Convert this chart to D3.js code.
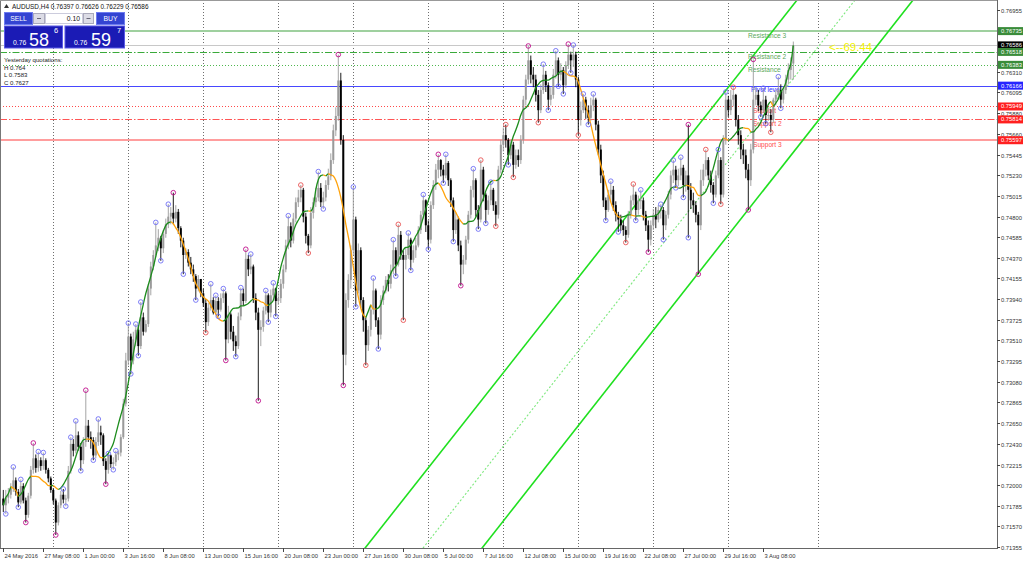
<!DOCTYPE html>
<html><head><meta charset="utf-8">
<script src="https://cdn.jsdelivr.net/npm/d3@7"></script>
<style>
body{margin:0;background:#fff;}
svg{display:block;font-family:"Liberation Sans",Arial,sans-serif;}
</style></head>
<body><svg id="chart" width="1024" height="562"></svg>
<script>
// ---------------- DATA ----------------
const symbol = "AUDUSD,H4";
const headerQuote = ["0.76397", "0.76626", "0.76229", "0.76586"];
const firstOpen = 7186; // pips (x10000)
const closes = [
7179,7187,7190,7197,7205,7193,7182,7199,7184,7169,
7189,7216,7228,7218,7226,7220,7226,7216,7207,7195,
7184,7161,7179,7190,7185,7186,7215,7243,7236,7252,
7240,7226,7245,7262,7250,7247,7231,7245,7255,7252,
7225,7216,7231,7222,7224,7232,7234,7250,7285,7330,
7355,7330,7352,7362,7345,7375,7360,7368,7405,7428,
7440,7450,7458,7447,7462,7472,7480,7484,7478,7485,
7468,7455,7440,7443,7432,7425,7418,7405,7415,7400,
7390,7370,7385,7393,7380,7392,7383,7395,7400,7352,
7378,7360,7350,7345,7376,7400,7392,7436,7425,7428,
7395,7380,7362,7365,7382,7398,7380,7398,7405,7392,
7395,7410,7425,7450,7470,7455,7478,7495,7500,7508,
7480,7460,7450,7484,7495,7500,7510,7495,7500,7513,
7522,7539,7570,7585,7622,7560,7336,7393,7414,7445,
7477,7403,7445,7393,7372,7346,7362,7383,7403,7372,
7357,7393,7403,7414,7410,7424,7445,7430,7461,7440,
7435,7440,7456,7435,7445,7450,7466,7482,7497,7471,
7456,7492,7513,7529,7539,7529,7523,7536,7518,7497,
7466,7477,7450,7430,7435,7456,7482,7508,7518,7487,
7477,7529,7503,7487,7497,7508,7492,7482,7529,7555,
7565,7560,7544,7555,7534,7544,7539,7560,7602,7623,
7643,7628,7623,7607,7591,7612,7628,7617,7602,7607,
7628,7643,7628,7633,7617,7638,7649,7643,7649,7623,
7581,7591,7602,7591,7583,7596,7602,7576,7550,7523,
7497,7487,7503,7508,7492,7482,7477,7471,7466,7461,
7482,7497,7503,7487,7497,7497,7482,7471,7456,7471,
7482,7477,7487,7487,7471,7482,7503,7523,7529,7518,
7523,7531,7513,7523,7508,7497,7492,7482,7471,7518,
7529,7539,7523,7513,7503,7523,7539,7503,7560,7602,
7591,7602,7607,7581,7565,7550,7544,7529,7518,7550,
7602,7607,7596,7591,7602,7586,7586,7581,7602,7607,
7612,7602,7612,7623,7633,7639.7,7658.6];
const highs = [
7195,7195,7197,7202,7219,7208,7196,7206,7202,7187,
7192,7220,7244,7232,7235,7229,7234,7228,7218,7209,
7197,7186,7182,7194,7196,7190,7220,7250,7248,7267,
7256,7244,7250,7299,7268,7256,7250,7250,7269,7262,
7254,7228,7233,7232,7229,7236,7236,7253,7290,7338,
7369,7358,7360,7368,7366,7391,7380,7372,7410,7433,
7445,7474,7467,7460,7466,7478,7493,7490,7505,7492,
7488,7470,7458,7447,7446,7438,7430,7420,7419,7415,
7405,7394,7390,7410,7396,7398,7396,7400,7405,7402,
7387,7380,7366,7356,7380,7406,7405,7446,7440,7441,
7430,7400,7385,7372,7386,7403,7400,7404,7411,7406,
7402,7415,7430,7456,7481,7474,7484,7500,7508,7513,
7510,7484,7462,7490,7500,7510,7527,7515,7506,7518,
7530,7546,7576,7594,7649,7630,7565,7400,7420,7450,
7511,7480,7452,7448,7396,7375,7366,7388,7416,7405,
7375,7398,7408,7418,7420,7430,7456,7448,7472,7465,
7445,7448,7463,7458,7450,7458,7470,7486,7503,7498,
7476,7496,7518,7535,7545,7540,7534,7545,7538,7520,
7500,7484,7480,7455,7440,7460,7486,7512,7530,7520,
7492,7539,7532,7505,7502,7516,7510,7496,7533,7560,
7573,7576,7562,7560,7558,7550,7550,7565,7606,7628,
7658,7648,7636,7628,7612,7618,7639,7632,7620,7615,
7634,7653,7646,7640,7636,7642,7660,7652,7659,7652,
7626,7600,7608,7605,7596,7604,7608,7604,7580,7555,
7528,7500,7508,7517,7512,7496,7485,7482,7476,7470,
7486,7502,7514,7506,7502,7508,7500,7486,7476,7476,
7488,7490,7492,7493,7490,7486,7507,7528,7539,7533,
7530,7542,7534,7528,7576,7515,7505,7496,7485,7529,
7535,7550,7542,7528,7516,7528,7550,7542,7565,7610,
7606,7612,7615,7608,7586,7570,7556,7550,7535,7556,
7644,7615,7612,7600,7614,7606,7594,7592,7604,7612,
7626,7618,7616,7628,7640,7646,7662.6];
const lows = [
7172,7170,7181,7186,7193,7189,7177,7180,7181,7161,
7166,7186,7212,7213,7214,7215,7216,7212,7203,7192,
7180,7148,7158,7176,7181,7178,7183,7212,7230,7233,
7236,7215,7222,7240,7245,7238,7226,7228,7241,7242,
7220,7201,7212,7218,7216,7220,7226,7230,7248,7282,
7325,7316,7326,7345,7335,7342,7356,7359,7365,7398,
7424,7438,7444,7434,7442,7458,7468,7472,7472,7474,
7462,7448,7420,7436,7428,7420,7412,7393,7402,7396,
7386,7359,7366,7382,7378,7377,7376,7381,7390,7330,
7348,7352,7340,7334,7342,7372,7387,7390,7418,7420,
7390,7372,7288,7345,7360,7378,7370,7375,7393,7376,
7388,7390,7405,7422,7446,7448,7452,7474,7490,7495,
7474,7452,7442,7447,7478,7490,7496,7490,7488,7496,
7508,7518,7535,7564,7580,7555,7304,7325,7385,7405,
7440,7386,7400,7385,7360,7325,7340,7355,7378,7365,
7342,7352,7388,7400,7402,7405,7420,7418,7428,7435,
7372,7425,7436,7424,7432,7437,7448,7462,7478,7464,
7446,7452,7488,7508,7520,7522,7515,7520,7512,7490,
7454,7462,7444,7408,7420,7430,7452,7478,7500,7480,
7467,7474,7496,7473,7482,7492,7486,7470,7478,7525,
7548,7552,7534,7540,7521,7530,7532,7535,7556,7596,
7618,7619,7615,7600,7578,7588,7608,7610,7591,7596,
7603,7624,7616,7622,7608,7614,7634,7630,7636,7615,
7565,7575,7588,7582,7576,7580,7590,7570,7544,7515,
7490,7476,7485,7495,7486,7475,7464,7465,7460,7453,
7458,7478,7492,7476,7482,7488,7476,7465,7443,7450,
7466,7468,7474,7478,7456,7466,7478,7498,7515,7510,
7512,7518,7500,7506,7458,7488,7484,7474,7420,7466,
7512,7522,7518,7505,7494,7500,7520,7493,7500,7555,
7584,7586,7595,7574,7555,7540,7535,7520,7487,7512,
7546,7596,7590,7584,7588,7577,7580,7568,7578,7596,
7602,7593,7598,7608,7618,7623,7622.9];

const timeLabels = ["24 May 2016","27 May 08:00","1 Jun 00:00","3 Jun 16:00","8 Jun 08:00","13 Jun 00:00",
  "15 Jun 16:00","20 Jun 08:00","23 Jun 00:00","27 Jun 16:00","30 Jun 08:00","5 Jul 00:00","7 Jul 16:00",
  "12 Jul 08:00","15 Jul 00:00","19 Jul 16:00","22 Jul 08:00","27 Jul 00:00","29 Jul 16:00","3 Aug 08:00"];
const labelEvery = 16; // bars between time labels
const weekSeparatorBars = [20,50,80,110,140,170,200,230,260,290,326];
const priceTicks = [0.76955,0.76310,0.76095,0.75880,0.75660,0.75445,0.75230,0.75015,0.74800,0.74585,
  0.74370,0.74155,0.73940,0.73725,0.73510,0.73295,0.73080,0.72865,0.72650,0.72430,0.72215,0.72000,
  0.71785,0.71570,0.71355];
const levelNames = ["Resistance 3","Resistance 2","Resistance","Pivot level","Support","Support 2","Support 3"];
const levelValues = [0.76735,0.76518,0.76383,0.76166,0.75949,0.75814,0.75597];
const bidPrice = 0.76586;
const yesterdayNames = ["H","L","C"];
const yesterdayValues = ["0.764","0.7583","0.7627"];
const lotSize = "0.10";
const sellQuote = ["0.76","58","6"];
const buyQuote = ["0.76","59","7"];
const channelUpper = [[144.7,0.71344],[317.5,0.77059]];
const channelMiddle = [[167.9,0.71344],[340.7,0.77059]];
const channelLower = [[191.5,0.71344],[363.9,0.77059]];
const distanceText = "<--69.44";

// ---------------- SETUP ----------------
const svg = d3.select("#chart");
const W = 1024, H = 562, plotR = 997, plotB = 548;
const n = closes.length;
const x = d3.scaleLinear().domain([0, n - 1]).range([3.3, 3.3 + 2.5 * (n - 1)]);
const y = d3.scaleLinear().domain([0.71355, 0.76955]).range([547, 10]);
const P = v => v / 10000;
const bars = closes.map((c, i) => ({
  i, o: P(i === 0 ? firstOpen : closes[i - 1]), h: P(highs[i]), l: P(lows[i]), c: P(c)
}));

svg.append("rect").attr("width", W).attr("height", H).attr("fill", "#fff");
svg.append("defs").append("clipPath").attr("id", "plot")
  .append("rect").attr("x", 0).attr("y", 0).attr("width", plotR).attr("height", plotB);
const g = svg.append("g").attr("clip-path", "url(#plot)");

// week separators (dotted)
g.selectAll("line.sep").data(weekSeparatorBars).join("line")
  .attr("x1", d => Math.round(x(d)) + 0.5).attr("x2", d => Math.round(x(d)) + 0.5)
  .attr("y1", 0).attr("y2", plotB)
  .attr("stroke", "#6e6e6e").attr("stroke-width", 1).attr("stroke-dasharray", "1,2");

// level lines
const levelStyle = [
  {stroke:"#9fd09f", w:2, dash:null, text:"#5aa85a"},
  {stroke:"#3aaa3a", w:1.2, dash:"7,2,1.5,2", text:"#5aa85a"},
  {stroke:"#4fb84f", w:1, dash:"1,2", text:"#5aa85a"},
  {stroke:"#4848ff", w:1, dash:null, text:"#3333ff"},
  {stroke:"#ff4a4a", w:1, dash:"1,2", text:"#ff4a4a"},
  {stroke:"#ff5555", w:1.2, dash:"7,2,1.5,2", text:"#ff4a4a"},
  {stroke:"#ff9d9d", w:2, dash:null, text:"#ff4a4a"}
];
levelValues.forEach((v, k) => {
  const s = levelStyle[k];
  const yy = Math.round(y(v)) + (s.w === 2 ? 0 : 0.5);
  g.append("line").attr("x1", 0).attr("x2", plotR).attr("y1", yy).attr("y2", yy)
    .attr("stroke", s.stroke).attr("stroke-width", s.w)
    .attr("stroke-dasharray", s.dash);
});
// bid line
g.append("line").attr("x1", 0).attr("x2", plotR)
  .attr("y1", Math.round(y(bidPrice)) + 0.5).attr("y2", Math.round(y(bidPrice)) + 0.5)
  .attr("stroke", "#c8c8c8").attr("stroke-width", 1);

// channel lines
function chanLine(a, color, w, dash) {
  const x1 = x(a[0][0]), y1 = y(a[0][1]), x2 = x(a[1][0]), y2 = y(a[1][1]);
  const m = (y2 - y1) / (x2 - x1);
  const xa = -50, xb = 1100;
  g.append("line").attr("x1", xa).attr("y1", y1 + m * (xa - x1))
    .attr("x2", xb).attr("y2", y1 + m * (xb - x1))
    .attr("stroke", color).attr("stroke-width", w).attr("stroke-dasharray", dash);
}
chanLine(channelMiddle, "#7ee87e", 1.1, "2,2");
chanLine(channelUpper, "#1fe01f", 1.6, null);
chanLine(channelLower, "#1fe01f", 1.6, null);

// level text labels
levelNames.forEach((name, k) => {
  const dx = k === 3 ? 3 : (k >= 4 ? 5 : 0);
  g.append("text").attr("x", 748 + dx).attr("y", y(levelValues[k]) + 6.8)
    .attr("font-size", 6.6).attr("fill", levelStyle[k].text).text(name);
});

// candles
const cg = g.append("g");
bars.forEach(b => {
  const bull = b.c >= b.o;
  const col = bull ? "#9a9a9a" : "#000";
  const xc = x(b.i);
  cg.append("line").attr("x1", xc).attr("x2", xc).attr("y1", y(b.h)).attr("y2", y(b.l))
    .attr("stroke", col).attr("stroke-width", 0.9);
  const top = y(Math.max(b.o, b.c)), bot = y(Math.min(b.o, b.c));
  cg.append("rect").attr("x", xc - 1).attr("width", 2)
    .attr("y", top).attr("height", Math.max(0.8, bot - top)).attr("fill", col);
});

// smoothed moving line (Savitzky-Golay quadratic, centered) coloured by direction
function smooth(v, M) {
  return v.map((_, i) => {
    const m = Math.min(M, i, v.length - 1 - i);
    if (m < 2) return v[i];
    let s = 0, ws = 0;
    for (let j = -m; j <= m; j++) { const w = 3 * m * m + 3 * m - 1 - 5 * j * j; s += w * v[i + j]; ws += w; }
    return s / ws;
  });
}
const ma = smooth(bars.map(b => b.c), 11);
const line = d3.line().x(d => x(d[0])).y(d => y(d[1])).curve(d3.curveMonotoneX);
let runs = [], cur = null;
for (let i = 1; i < n; i++) {
  const up = ma[i] >= ma[i - 1];
  if (!cur || cur.up !== up) { cur = {up, pts: [[i - 1, ma[i - 1]]]}; runs.push(cur); }
  cur.pts.push([i, ma[i]]);
}
runs.forEach(r => g.append("path").attr("d", line(r.pts)).attr("fill", "none")
  .attr("stroke", r.up ? "#1c8c1c" : "#ffa20a").attr("stroke-width", 1.3));

// fractal circles
function isExt(arr, i, k, hi) {
  if (i - k < 0 || i + k >= n) return false;
  for (let j = i - k; j <= i + k; j++) {
    if (j === i) continue;
    if (hi) { if (j < i ? arr[j] >= arr[i] : arr[j] > arr[i]) return false; }
    else { if (j < i ? arr[j] <= arr[i] : arr[j] < arr[i]) return false; }
  }
  return true;
}
const fracWindows = [1, 5, 9];
const fracColors = ["#6f6ff5", "#e85555", "#c0108c"];
const marks = [];
for (let i = 0; i < n; i++) {
  [[highs, true], [lows, false]].forEach(([arr, hi]) => {
    let lvl = -1;
    fracWindows.forEach((k, li) => { if (isExt(arr, i, k, hi)) lvl = li; });
    if (lvl >= 0) marks.push({i, v: P(arr[i]), lvl});
  });
}
g.selectAll("circle.f").data(marks).join("circle")
  .attr("cx", d => x(d.i)).attr("cy", d => y(d.v)).attr("r", 2.3)
  .attr("fill", "none").attr("stroke", d => fracColors[d.lvl]).attr("stroke-width", 0.9);

// distance text
g.append("text").attr("x", 829).attr("y", 51).attr("font-size", 11.5).attr("fill", "#f3f300")
  .text(distanceText);

// frame
svg.append("line").attr("x1", 0.5).attr("x2", 0.5).attr("y1", 0).attr("y2", plotB).attr("stroke", "#777");
svg.append("line").attr("x1", 0).attr("x2", plotR).attr("y1", 0.5).attr("y2", 0.5).attr("stroke", "#999");
svg.append("line").attr("x1", plotR + 0.5).attr("x2", plotR + 0.5).attr("y1", 0).attr("y2", plotB + 1).attr("stroke", "#666");
svg.append("line").attr("x1", 0).attr("x2", plotR + 1).attr("y1", plotB + 0.5).attr("y2", plotB + 0.5).attr("stroke", "#666");

// price axis
const ax = svg.append("g");
priceTicks.forEach(t => {
  const yy = Math.round(y(t)) + 0.5;
  ax.append("line").attr("x1", plotR).attr("x2", plotR + 3).attr("y1", yy).attr("y2", yy).attr("stroke", "#444");
  ax.append("text").attr("x", plotR + 4).attr("y", yy + 2).attr("font-size", 5.8).attr("fill", "#333")
    .text(t.toFixed(5));
});
const tagFill = ["#3a8c3a", "#3a8c3a", "#3a8c3a", "#2525ff", "#ff2020", "#ff2020", "#ff2020"];
const tags = levelValues.map((v, k) => ({v, fill: tagFill[k]}));
tags.splice(1, 0, {v: bidPrice, fill: "#000"});
tags.forEach(t => {
  const yy = y(t.v);
  ax.append("rect").attr("x", plotR + 1).attr("y", yy - 4).attr("width", 25).attr("height", 8).attr("fill", t.fill);
  ax.append("text").attr("x", plotR + 4).attr("y", yy + 2).attr("font-size", 5.8).attr("fill", "#fff")
    .text(t.v.toFixed(5));
});

// time axis
timeLabels.forEach((lab, k) => {
  const xx = Math.round(x(k * labelEvery)) + 0.5;
  ax.append("line").attr("x1", xx).attr("x2", xx).attr("y1", plotB).attr("y2", plotB + 4).attr("stroke", "#444");
  ax.append("text").attr("x", xx + 1).attr("y", 557.5).attr("font-size", 5.8).attr("fill", "#333").text(lab);
});

// header
svg.append("path").attr("d", "M4,8 L6.5,4 L9,8 Z").attr("fill", "#333");
svg.append("text").attr("x", 12).attr("y", 8.5).attr("font-size", 6.4).attr("fill", "#111")
  .text(symbol + " " + headerQuote.join(" "));

// one-click trading panel
const pnl = svg.append("g");
pnl.append("rect").attr("x", 4).attr("y", 12).attr("width", 121).attr("height", 36).attr("fill", "#fff");
pnl.append("rect").attr("x", 4.5).attr("y", 12.5).attr("width", 28).attr("height", 12).attr("fill", "#3444d2").attr("stroke", "#6d7bf0");
pnl.append("text").attr("x", 18.5).attr("y", 21).attr("text-anchor", "middle").attr("font-size", 6.8).attr("fill", "#fff").text("SELL");
pnl.append("rect").attr("x", 33.5).attr("y", 13.5).attr("width", 11).attr("height", 10).attr("fill", "#dcdce6").attr("stroke", "#aab");
pnl.append("rect").attr("x", 37).attr("y", 18).attr("width", 4).attr("height", 1).attr("fill", "#667");
pnl.append("rect").attr("x", 45.5).attr("y", 13.5).attr("width", 37).attr("height", 10).attr("fill", "#fff").attr("stroke", "#ccd");
pnl.append("text").attr("x", 80).attr("y", 21).attr("text-anchor", "end").attr("font-size", 6.8).attr("fill", "#111").text(lotSize);
pnl.append("rect").attr("x", 83.5).attr("y", 13.5).attr("width", 10).attr("height", 10).attr("fill", "#dcdce6").attr("stroke", "#aab");
pnl.append("rect").attr("x", 86.5).attr("y", 18).attr("width", 4).attr("height", 1).attr("fill", "#667");
pnl.append("rect").attr("x", 96.5).attr("y", 12.5).attr("width", 28).attr("height", 12).attr("fill", "#3444d2").attr("stroke", "#6d7bf0");
pnl.append("text").attr("x", 110.5).attr("y", 21).attr("text-anchor", "middle").attr("font-size", 6.8).attr("fill", "#fff").text("BUY");
[[4.5, sellQuote, 58, 13, 29, 54], [65, buyQuote, 59.5, 74, 91, 117]].forEach(([bx, q, bw, sx, bigx, supx]) => {
  pnl.append("rect").attr("x", bx).attr("y", 26).attr("width", bw).attr("height", 22).attr("fill", "#1b1bb5").attr("stroke", "#5a5ae6");
  pnl.append("text").attr("x", sx).attr("y", 45).attr("font-size", 6.8).attr("fill", "#fff").text(q[0]);
  pnl.append("text").attr("x", bigx).attr("y", 46).attr("font-size", 18).attr("fill", "#fff").text(q[1]);
  pnl.append("text").attr("x", supx).attr("y", 33).attr("font-size", 7.5).attr("fill", "#fff").text(q[2]);
});

// yesterday quotations
const yq = svg.append("g").attr("font-size", 6.1).attr("fill", "#222");
yq.append("text").attr("x", 4).attr("y", 62).text("Yesterday quotations:");
yesterdayNames.forEach((nm, k) => yq.append("text").attr("x", 4).attr("y", 69.5 + k * 7.5).text(nm + " " + yesterdayValues[k]));
</script></body></html>
